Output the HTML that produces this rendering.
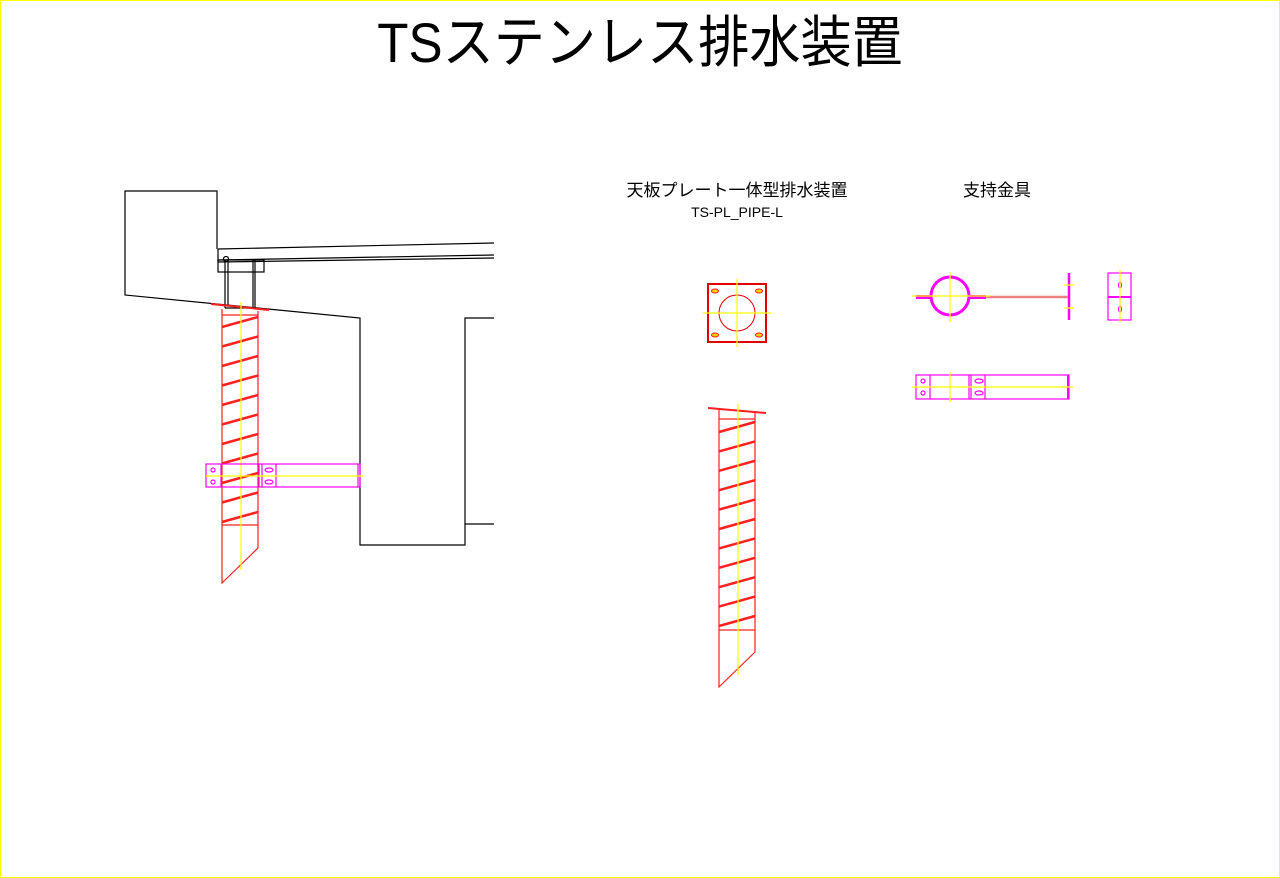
<!DOCTYPE html>
<html><head><meta charset="utf-8"><style>
html,body{margin:0;padding:0;background:#fff}
svg{display:block}
text{font-family:"Liberation Sans","Noto Sans CJK JP",sans-serif}
</style></head><body>
<svg width="1280" height="878" viewBox="0 0 1280 878" xmlns="http://www.w3.org/2000/svg">
<rect x="0.5" y="0.5" width="1279" height="877" fill="#fff" stroke="#ffff00" stroke-width="1"/>
<text x="640" y="62" font-size="56" text-anchor="middle" transform="translate(640 0) scale(0.913 1) translate(-640 0)">TSステンレス排水装置</text>
<text x="737" y="196" font-size="17" text-anchor="middle">天板プレート一体型排水装置</text>
<text x="737" y="217" font-size="14" text-anchor="middle">TS-PL_PIPE-L</text>
<text x="997" y="196" font-size="17" text-anchor="middle">支持金具</text>

<g fill="none" stroke="#000" stroke-width="1.2">
<polyline points="217,249 217,191 125,191 125,295 360,318 360,545 465,545 465,318 494,318"/>
<line x1="465" y1="524" x2="494" y2="524"/>
<line x1="218" y1="249" x2="494" y2="243"/>
<line x1="218" y1="260" x2="494" y2="255"/>
<line x1="218" y1="262" x2="494" y2="258"/>
<line x1="218" y1="249" x2="218" y2="262"/>
<rect x="218" y="260" width="46" height="12"/>
<line x1="225" y1="260" x2="225" y2="308"/><line x1="228" y1="260" x2="228" y2="306"/>
<line x1="253" y1="260" x2="253" y2="308"/><line x1="255" y1="260" x2="255" y2="308"/>
<line x1="225" y1="308" x2="255" y2="308"/>
<circle cx="226" cy="259" r="2.5"/>
</g>

<g fill="none" stroke="#ff2020" stroke-width="1.2">
<line x1="211" y1="304" x2="269" y2="310" stroke-width="2"/>
<polyline points="258,311 258,548 222,583 222,309"/>
<line x1="222" y1="315" x2="258" y2="315"/>
<line x1="222" y1="525" x2="258" y2="525"/>
</g>
<g stroke="#ff2020" stroke-width="2.5">
<line x1="222" y1="327" x2="258" y2="317"/><line x1="222" y1="346.5" x2="258" y2="336.5"/>
<line x1="222" y1="366" x2="258" y2="356"/><line x1="222" y1="385.5" x2="258" y2="375.5"/>
<line x1="222" y1="405" x2="258" y2="395"/><line x1="222" y1="424.5" x2="258" y2="414.5"/>
<line x1="222" y1="444" x2="258" y2="434"/><line x1="222" y1="463.5" x2="258" y2="453.5"/>
<line x1="222" y1="483" x2="258" y2="473"/><line x1="222" y1="502.5" x2="258" y2="492.5"/>
<line x1="222" y1="522" x2="258" y2="512"/>
</g>
<line x1="241" y1="302" x2="241" y2="570" stroke="#ffff00" stroke-width="1.2"/>
<g fill="none" stroke="#ff00ff" stroke-width="1.2">
<rect x="206" y="464" width="154" height="23"/>
<line x1="221" y1="464" x2="221" y2="487"/><line x1="259" y1="464" x2="259" y2="487"/>
<line x1="262" y1="464" x2="262" y2="487"/><line x1="276" y1="464" x2="276" y2="487"/>
<line x1="358" y1="464" x2="358" y2="487"/>
<ellipse cx="213" cy="470" rx="2" ry="2"/><ellipse cx="213" cy="482" rx="2" ry="2"/>
<ellipse cx="269" cy="470" rx="4" ry="2"/><ellipse cx="269" cy="482" rx="4" ry="2"/>
</g>
<line x1="206" y1="476" x2="363" y2="476" stroke="#ffff00" stroke-width="1.2"/>

<g fill="none" stroke="#e00000" stroke-width="1.5">
<rect x="708" y="284" width="58" height="58" stroke-width="2"/>
<circle cx="737" cy="313" r="18" stroke-width="1"/>
</g>
<g fill="#ffd000" stroke="#ff2020" stroke-width="1">
<ellipse cx="715" cy="291" rx="3.5" ry="2"/><ellipse cx="759" cy="291" rx="3.5" ry="2"/>
<ellipse cx="715" cy="335" rx="3.5" ry="2"/><ellipse cx="759" cy="335" rx="3.5" ry="2"/>
</g>
<g stroke="#ffff00" stroke-width="1.2">
<line x1="737" y1="279" x2="737" y2="347"/><line x1="703" y1="313" x2="771" y2="313"/>
</g>

<g fill="none" stroke="#ff2020" stroke-width="1.2">
<line x1="708" y1="408" x2="766" y2="413" stroke-width="2"/>
<polyline points="755,411 755,652 719,687 719,409"/>
<line x1="719" y1="419" x2="755" y2="419"/>
<line x1="719" y1="630" x2="755" y2="630"/>
</g>
<g stroke="#ff2020" stroke-width="2.5">
<line x1="719" y1="432" x2="755" y2="422"/><line x1="719" y1="451.4" x2="755" y2="441.4"/>
<line x1="719" y1="470.8" x2="755" y2="460.8"/><line x1="719" y1="490.2" x2="755" y2="480.2"/>
<line x1="719" y1="509.6" x2="755" y2="499.6"/><line x1="719" y1="529" x2="755" y2="519"/>
<line x1="719" y1="548.4" x2="755" y2="538.4"/><line x1="719" y1="567.8" x2="755" y2="557.8"/>
<line x1="719" y1="587.2" x2="755" y2="577.2"/><line x1="719" y1="606.6" x2="755" y2="596.6"/>
<line x1="719" y1="626" x2="755" y2="616"/>
</g>
<line x1="738" y1="404" x2="738" y2="675" stroke="#ffff00" stroke-width="1.2"/>

<g fill="none" stroke="#ff00ff">
<circle cx="950" cy="296" r="19" stroke-width="3"/>
<line x1="916" y1="297" x2="931" y2="297" stroke-width="4"/>
<line x1="969" y1="297" x2="986" y2="297" stroke-width="4"/>
<line x1="1069" y1="273" x2="1069" y2="320" stroke-width="2.5"/>
<rect x="1108" y="273" width="23" height="47" stroke-width="1.2"/>
<line x1="1108" y1="297" x2="1131" y2="297" stroke-width="2"/>
<ellipse cx="1120" cy="285" rx="1.5" ry="3"/><ellipse cx="1120" cy="309" rx="1.5" ry="3"/>
</g>
<line x1="986" y1="297" x2="1068" y2="297" stroke="#f08080" stroke-width="2.5"/>
<g stroke="#ffff00" stroke-width="1.2">
<line x1="950" y1="272" x2="950" y2="322"/><line x1="912" y1="296" x2="990" y2="296"/>
<line x1="1120" y1="270" x2="1120" y2="322"/>
<line x1="1064" y1="285" x2="1074" y2="285"/><line x1="1064" y1="308" x2="1074" y2="308"/>
</g>

<g fill="none" stroke="#ff00ff" stroke-width="1.2">
<rect x="916" y="375" width="153" height="24"/>
<line x1="930" y1="375" x2="930" y2="399"/><line x1="969" y1="375" x2="969" y2="399"/>
<line x1="971" y1="375" x2="971" y2="399"/><line x1="985" y1="375" x2="985" y2="399"/>
<line x1="1068" y1="375" x2="1068" y2="399" stroke-width="2"/>
<ellipse cx="923" cy="381" rx="2" ry="2"/><ellipse cx="923" cy="393" rx="2" ry="2"/>
<ellipse cx="979" cy="381" rx="4" ry="2"/><ellipse cx="979" cy="393" rx="4" ry="2"/>
</g>
<g stroke="#ffff00" stroke-width="1.2">
<line x1="912" y1="387" x2="1073" y2="387"/><line x1="950" y1="372" x2="950" y2="402"/>
</g>
</svg>
</body></html>
